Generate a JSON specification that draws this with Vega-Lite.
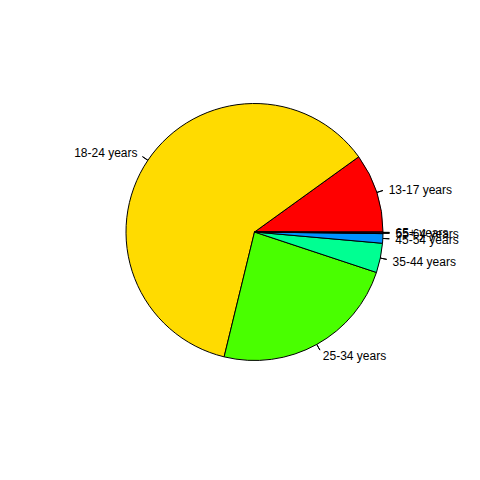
{
  "$schema": "https://vega.github.io/schema/vega-lite/v6.json",
  "width": 451,
  "height": 464,
  "autosize": "none",
  "padding": {"left": 29, "top": 0, "right": 0, "bottom": 16},
  "background": "white",
  "config": {"view": {"stroke": null}},
  "data": {"values": [
    {"age": "13-17 years", "pct": 9.95, "ord": 1},
    {"age": "18-24 years", "pct": 61.25, "ord": 2},
    {"age": "25-34 years", "pct": 23.7, "ord": 3},
    {"age": "35-44 years", "pct": 3.7, "ord": 4},
    {"age": "45-54 years", "pct": 1.2, "ord": 5},
    {"age": "55-64 years", "pct": 0.1, "ord": 6},
    {"age": "65+ years", "pct": 0.1, "ord": 7}
  ]},
  "transform": [
    {"stack": "pct", "groupby": [], "sort": [{"field": "ord"}], "as": ["v0", "v1"]},
    {"calculate": "(datum.v0 + datum.v1) / 2", "as": "mid"}
  ],
  "layer": [
    {
      "mark": {"type": "arc", "outerRadius": 128.5, "stroke": "black", "strokeWidth": 1},
      "encoding": {
        "theta": {"field": "v0", "type": "quantitative", "stack": null, "scale": {"domain": [0, 100], "range": [1.5708, -4.71239]}},
        "theta2": {"field": "v1"},
        "color": {
          "field": "age", "type": "nominal", "legend": null,
          "scale": {
            "domain": ["13-17 years", "18-24 years", "25-34 years", "35-44 years", "45-54 years", "55-64 years", "65+ years"],
            "range": ["#FF0000", "#FFDB00", "#49FF00", "#00FF92", "#0092FF", "#4900FF", "#FF00DB"]
          }
        }
      }
    },
    {
      "mark": {"type": "arc", "innerRadius": 128.5, "outerRadius": 135, "stroke": "black", "strokeWidth": 1, "fillOpacity": 0},
      "encoding": {
        "theta": {"field": "mid", "type": "quantitative", "stack": null},
        "theta2": {"field": "mid"}
      }
    },
    {
      "transform": [{"filter": "datum.age != '18-24 years'"}],
      "mark": {"type": "text", "radius": 141, "align": "left", "baseline": "middle", "dy": 1, "font": "Liberation Sans", "fontSize": 12, "color": "black"},
      "encoding": {
        "theta": {"field": "mid", "type": "quantitative", "stack": null},
        "text": {"field": "age"}
      }
    },
    {
      "transform": [{"filter": "datum.age == '18-24 years'"}],
      "mark": {"type": "text", "radius": 141, "align": "right", "baseline": "middle", "font": "Liberation Sans", "fontSize": 12, "color": "black"},
      "encoding": {
        "theta": {"field": "mid", "type": "quantitative", "stack": null},
        "text": {"field": "age"}
      }
    }
  ]
}
